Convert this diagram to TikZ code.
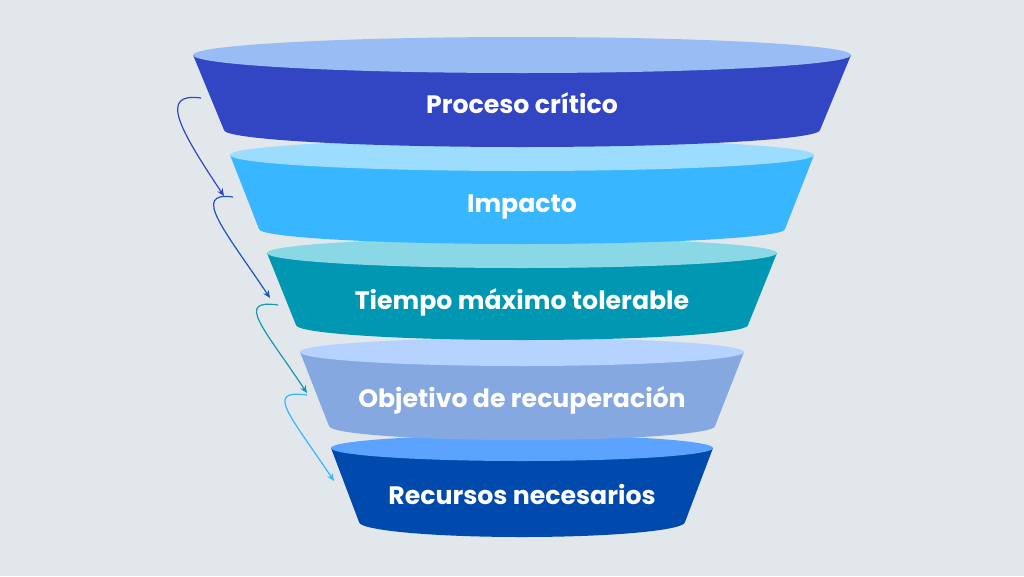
\documentclass[tikz,border=0pt]{standalone}
\usepackage{fontspec}
\setmainfont{Poppins}
\usetikzlibrary{arrows.meta}
\definecolor{bg}{HTML}{E2E7EB}
\definecolor{bodyA}{HTML}{3246C3}
\definecolor{topA}{HTML}{99BCF5}
\definecolor{bodyB}{HTML}{38B6FF}
\definecolor{topB}{HTML}{9BDCFF}
\definecolor{bodyC}{HTML}{0097B2}
\definecolor{topC}{HTML}{8AD8E6}
\definecolor{bodyD}{HTML}{84A8DF}
\definecolor{topD}{HTML}{B6D2FF}
\definecolor{bodyE}{HTML}{004AAD}
\definecolor{topE}{HTML}{5BA3FF}
\definecolor{arrA}{HTML}{3446C0}
\definecolor{arrB}{HTML}{1C56B5}
\definecolor{arrC}{HTML}{1898AE}
\definecolor{arrD}{HTML}{38B6FF}
\newcommand\funnellayer[8]{%
  \fill[#7] (522-#2,-#1) -- (522-#5,-#4) arc[start angle=180,end angle=360,x radius=#5pt,y radius=#6pt] -- (522+#2,-#1) -- cycle;
  \fill[#8] (522,-#1) ellipse[x radius=#2pt,y radius=#3pt];
}
\tikzset{
  lab/.style={text=white,font=\bfseries\fontsize{25.2}{28}\selectfont,anchor=base,inner sep=0pt},
  flow/.style={line width=1.2pt,-{Stealth[length=7.5pt,width=6.5pt]}}
}
\begin{document}
\begin{tikzpicture}[x=1pt,y=1pt]
\fill[bg] (0,0) rectangle (1024,-576);
\useasboundingbox (0,0) rectangle (1024,-576);
% layers, bottom first
\funnellayer{448}{191}{13}{522}{163}{15}{bodyE}{topE}
\funnellayer{352}{222}{14}{426}{193}{14}{bodyD}{topD}
\funnellayer{253}{255}{15}{325}{226}{15}{bodyC}{topC}
\funnellayer{155}{292}{16}{229}{263}{15}{bodyB}{topB}
\funnellayer{55}{329}{18}{130}{298}{17}{bodyA}{topA}
% labels
\node[lab] (l1) at (522,-113) {Proceso crítico};
\node[lab] (l2) at (522,-212) {Impacto};
\node[lab] (l3) at (522,-309) {Tiempo máximo tolerable};
\node[lab] (l4) at (522,-407) {Objetivo de recuperación};
\node[lab] (l5) at (522,-504) {Recursos necesarios};
% arrow anchors
\coordinate (a1s) at (201,-98);
\coordinate (a1e) at (224,-196);
\coordinate (a2s) at (233,-197);
\coordinate (a2e) at (270,-298);
\coordinate (a3s) at (278,-305);
\coordinate (a3e) at (307,-393);
\coordinate (a4s) at (307,-395);
\coordinate (a4e) at (334,-481);
\draw[flow,arrA] (a1s) .. controls (158,-92) and (180,-130) .. (a1e);
\draw[flow,arrB] (a2s) .. controls (190,-191) and (226,-232) .. (a2e);
\draw[flow,arrC] (a3s) .. controls (235,-299) and (263,-327) .. (a3e);
\draw[flow,arrD] (a4s) .. controls (264,-389) and (290,-415) .. (a4e);
\end{tikzpicture}
\end{document}
